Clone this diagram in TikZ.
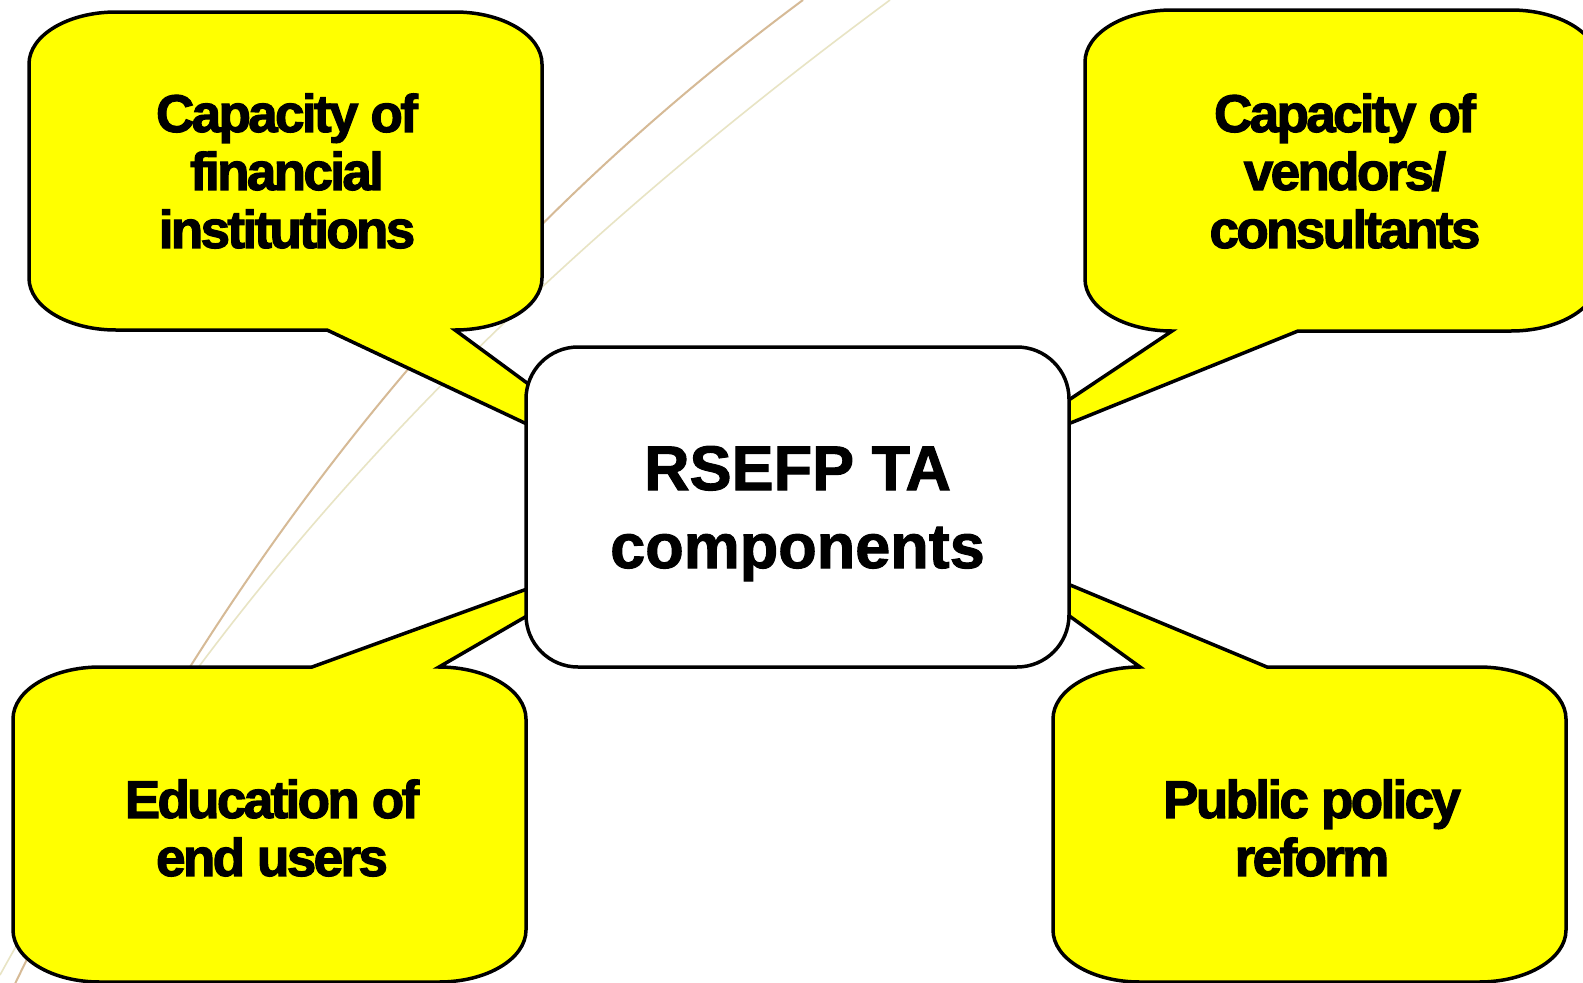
\documentclass[tikz,border=0pt]{standalone}
\usepackage{fontspec}
\setmainfont{Liberation Sans}
\newfontfamily\bubblefont{Liberation Sans}[LetterSpace=-5,FakeBold=2.2]
\newfontfamily\hubfont{Liberation Sans}[FakeBold=1.6]
\usepackage{tikz}
\usetikzlibrary{positioning}
\definecolor{bubbleyellow}{RGB}{255,255,0}
\definecolor{arcdark}{RGB}{214,186,150}
\definecolor{arclight}{RGB}{232,228,196}

\tikzset{
  bubble/.style={draw=black, fill=bubbleyellow, line width=3.5pt, line join=miter},
  rr/.style={x radius=87, y radius=52},
  bubbletext/.style={align=center, font=\bubblefont\bfseries\fontsize{53}{58}\selectfont},
  hub/.style={draw=black, fill=white, line width=3.5pt, rounded corners=52pt,
    minimum width=543pt, minimum height=320pt, align=center, text depth=0pt,
    font=\hubfont\bfseries\fontsize{63}{78}\selectfont}
}

\begin{document}
\begin{tikzpicture}[x=1pt,y=-1pt]
\useasboundingbox (0,0) rectangle (1583,983);
\fill[white] (0,0) rectangle (1583,983);

\draw[arcdark,line width=2pt] (803,0) .. controls (450,262) and (205,590) .. (12,990);
\draw[arclight,line width=1.6pt] (890,0) .. controls (505,285) and (215,585) .. (0,975);

\coordinate (tlTip) at (682,497);
\coordinate (trTip) at (979,460);
\coordinate (blTip) at (651,544);
\coordinate (brTip) at (967,542);

\draw[bubble] (116,12) -- (455,12) arc[rr,start angle=270,end angle=360] -- (542,278)
  arc[rr,start angle=0,end angle=90] -- (tlTip) -- (327,330) -- (116,330)
  arc[rr,start angle=90,end angle=180] -- (29,64) arc[rr,start angle=180,end angle=270] -- cycle;
\draw[bubble] (1172,10) -- (1511,10) arc[rr,start angle=270,end angle=360] -- (1598,279)
  arc[rr,start angle=0,end angle=90] -- (1298,331) -- (trTip) -- (1172,331)
  arc[rr,start angle=90,end angle=180] -- (1085,62) arc[rr,start angle=180,end angle=270] -- cycle;
\draw[bubble] (13,719) arc[rr,start angle=180,end angle=270] -- (312,667) -- (blTip) -- (439,667)
  arc[rr,start angle=270,end angle=360] -- (526,930) arc[rr,start angle=0,end angle=90] -- (100,982)
  arc[rr,start angle=90,end angle=180] -- cycle;
\draw[bubble] (1053,719) arc[rr,start angle=180,end angle=270] -- (brTip) -- (1267,667) -- (1479,667)
  arc[rr,start angle=270,end angle=360] -- (1566,930) arc[rr,start angle=0,end angle=90] -- (1140,982)
  arc[rr,start angle=90,end angle=180] -- cycle;

\node[hub] (hub) at (797.5,507) {RSEFP TA\\components};

\node[bubbletext] (finance) at (287,171) {Capacity of\\financial\\institutions};
\node[bubbletext] (vendors) at (1345,171) {Capacity of\\vendors/\\consultants};
\node[bubbletext] (users) at (272,828) {Education of\\end users};
\node[bubbletext] (policy) at (1312,828) {Public policy\\reform};
\end{tikzpicture}
\end{document}
